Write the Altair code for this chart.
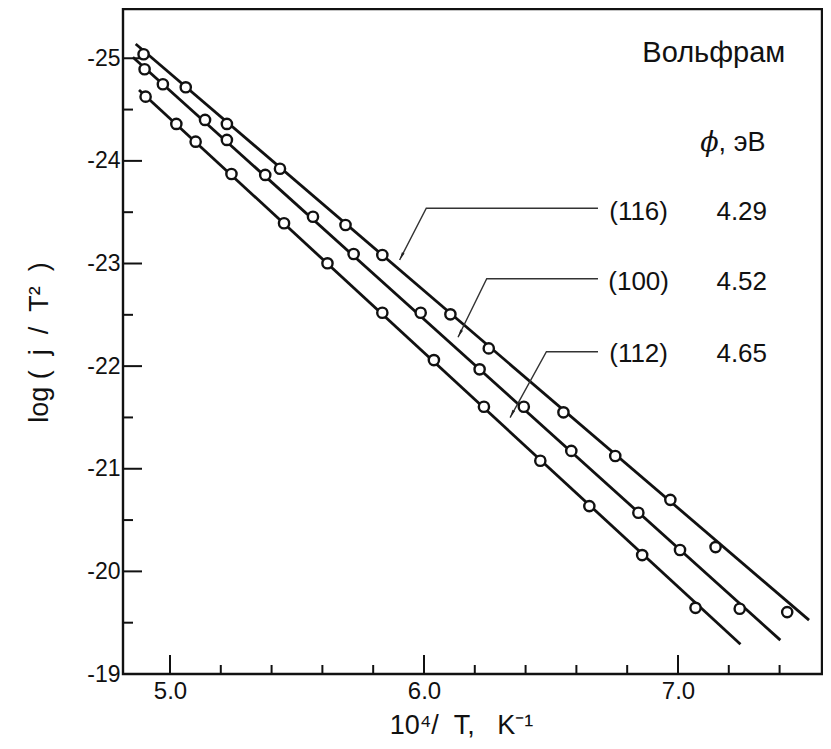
import altair as alt
import pandas as pd

# ---------------- data ----------------
series_names = ["(116)", "(100)", "(112)"]
work_functions = ["4.29", "4.52", "4.65"]

x_116 = [4.896, 5.062, 5.224, 5.433, 5.691, 5.836, 6.104, 6.255, 6.549, 6.753, 6.970, 7.148, 7.430]
y_116 = [-25.039, -24.717, -24.360, -23.923, -23.375, -23.083, -22.505, -22.173, -21.550, -21.124, -20.697, -20.237, -19.603]

x_100 = [4.900, 4.972, 5.138, 5.224, 5.375, 5.563, 5.723, 5.987, 6.219, 6.393, 6.580, 6.844, 7.008, 7.243]
y_100 = [-24.893, -24.747, -24.399, -24.204, -23.863, -23.456, -23.093, -22.520, -21.969, -21.604, -21.174, -20.571, -20.208, -19.636]

x_112 = [4.904, 5.025, 5.101, 5.242, 5.449, 5.620, 5.836, 6.039, 6.236, 6.458, 6.651, 6.859, 7.069]
y_112 = [-24.626, -24.360, -24.187, -23.872, -23.392, -23.002, -22.520, -22.059, -21.604, -21.078, -20.636, -20.159, -19.645]

# fitted straight lines (start / end points)
fit_x_start = [4.865, 4.854, 4.878]
fit_y_start = [-25.139, -25.010, -24.691]
fit_x_end = [7.516, 7.403, 7.246]
fit_y_end = [-19.525, -19.330, -19.289]

# leader lines: label end -> bend -> arrow tip
leader_x_label = [6.685, 6.685, 6.685]
leader_x_bend = [6.009, 6.247, 6.482]
leader_y = [-23.538, -22.852, -22.140]
arrow_x = [5.904, 6.134, 6.339]
arrow_y = [-23.034, -22.281, -21.499]

label_y = [-23.502, -22.820, -22.118]
label_x = [6.845, 6.845, 6.845]
phi_x = [7.251, 7.251, 7.251]

metal_text = ["Вольфрам"]
metal_x = [7.141]
metal_y = [-25.052]
phi_symbol = ["ϕ"]
phi_unit = [", эВ"]
phi_head_x = [7.160]
phi_head_y = [-24.170]

x_major = [5.0, 6.0, 7.0]
x_minor = [5.2, 5.4, 5.6, 5.8, 6.2, 6.4, 6.6, 6.8, 7.2, 7.4]
y_major = [-25, -24, -23, -22, -21, -20, -19]
y_minor = [-24.5, -23.5, -22.5, -21.5, -20.5, -19.5]
x_domain = [4.815, 7.567]
y_domain = [-25.48, -19.0]

NB = "\u00a0"
x_title = "10⁴/" + NB * 2 + "T," + NB * 3 + "K⁻¹"
y_title = "log" + NB + "(" + NB * 2 + "j" + NB * 2 + "/" + NB * 2 + "T²" + NB * 2 + ")"

# ---------------- tables ----------------
pts = pd.concat([
    pd.DataFrame({"x": x_116, "y": y_116, "s": series_names[0]}),
    pd.DataFrame({"x": x_100, "y": y_100, "s": series_names[1]}),
    pd.DataFrame({"x": x_112, "y": y_112, "s": series_names[2]}),
])

fit_rows = []
for i, s in enumerate(series_names):
    fit_rows.append({"x": fit_x_start[i], "y": fit_y_start[i], "s": s, "o": 0})
    fit_rows.append({"x": fit_x_end[i], "y": fit_y_end[i], "s": s, "o": 1})
fits = pd.DataFrame(fit_rows)

lead_rows = []
for i, s in enumerate(series_names):
    lead_rows.append({"x": leader_x_label[i], "y": leader_y[i], "s": s, "o": 0})
    lead_rows.append({"x": leader_x_bend[i], "y": leader_y[i], "s": s, "o": 1})
    lead_rows.append({"x": arrow_x[i], "y": arrow_y[i], "s": s, "o": 2})
leads = pd.DataFrame(lead_rows)
tips = pd.DataFrame({"x": arrow_x, "y": arrow_y})

labels = pd.DataFrame({"x": label_x, "y": label_y, "t": series_names})
phis = pd.DataFrame({"x": phi_x, "y": label_y, "t": work_functions})
metal = pd.DataFrame({"x": metal_x, "y": metal_y, "t": metal_text})
phi_sym = pd.DataFrame({"x": phi_head_x, "y": phi_head_y, "t": phi_symbol})
phi_un = pd.DataFrame({"x": phi_head_x, "y": phi_head_y, "t": phi_unit})

FONT = "Liberation Sans, Arial, Helvetica, sans-serif"
INK = "#111"
W, H = 699, 665

xscale = alt.Scale(domain=x_domain, zero=False, nice=False)
yscale = alt.Scale(domain=y_domain, zero=False, nice=False, reverse=True)

xaxis = alt.Axis(values=x_major, labelExpr="format(datum.value, '.1f')",
                 title=x_title, ticks=False, domain=False, grid=False,
                 labelFontSize=24, labelFont=FONT, labelColor=INK,
                 labelPadding=5, titleFont=FONT, titleFontSize=27,
                 titleFontWeight="normal", titleColor=INK,
                 titleX=338, titleY=65, titleBaseline="bottom")
yaxis = alt.Axis(values=y_major, labelExpr="'' + datum.value",
                 title=y_title, ticks=False, domain=False, grid=False,
                 labelFontSize=23, labelFont=FONT, labelColor=INK,
                 labelPadding=3, titleFont=FONT, titleFontSize=27,
                 titleFontWeight="normal", titleColor=INK,
                 titleX=-76, titleY=333, titleBaseline="alphabetic", titleAngle=-90)


def X(f="x"):
    return alt.X(f, type="quantitative", scale=xscale, axis=xaxis)


def Y(f="y"):
    return alt.Y(f, type="quantitative", scale=yscale, axis=yaxis)


lines = alt.Chart(fits).mark_line(color=INK, strokeWidth=2.8).encode(
    x=X(), y=Y(), detail="s:N", order="o:Q")

points = alt.Chart(pts).mark_point(shape="circle", size=105, filled=True,
                                   fill="white", stroke=INK, strokeWidth=2.4,
                                   opacity=1).encode(x=X(), y=Y())

leader = alt.Chart(leads).mark_line(color="#333", strokeWidth=1.4).encode(
    x=X(), y=Y(), detail="s:N", order="o:Q")

arrows = alt.Chart(tips).mark_point(shape="M0,0L0.35,1.9L-0.35,1.9Z", size=72,
                                    filled=True, color="#222", angle=207,
                                    opacity=1).encode(x=X(), y=Y())

lab_text = alt.Chart(labels).mark_text(font=FONT, fontSize=26, color=INK,
                                       align="center", baseline="middle").encode(
    x=X(), y=Y(), text="t:N")
phi_text = alt.Chart(phis).mark_text(font=FONT, fontSize=26, color=INK,
                                     align="center", baseline="middle").encode(
    x=X(), y=Y(), text="t:N")
metal_mark = alt.Chart(metal).mark_text(font=FONT, fontSize=29, color=INK,
                                        align="center", baseline="middle").encode(
    x=X(), y=Y(), text="t:N")
phi_sym_mark = alt.Chart(phi_sym).mark_text(font="DejaVu Serif, serif", fontSize=27,
                                            fontStyle="italic", color=INK,
                                            align="right", baseline="middle").encode(
    x=X(), y=Y(), text="t:N")
phi_un_mark = alt.Chart(phi_un).mark_text(font=FONT, fontSize=27, color=INK,
                                          align="left", baseline="middle").encode(
    x=X(), y=Y(), text="t:N")

xt_major = alt.Chart(pd.DataFrame({"x": x_major})).mark_rule(color=INK, strokeWidth=2).encode(
    x=X(), y=alt.value(H), y2=alt.value(H - 19))
xt_minor = alt.Chart(pd.DataFrame({"x": x_minor})).mark_rule(color=INK, strokeWidth=2).encode(
    x=X(), y=alt.value(H), y2=alt.value(H - 9))
yt_major = alt.Chart(pd.DataFrame({"y": y_major})).mark_rule(color=INK, strokeWidth=2).encode(
    y=Y(), x=alt.value(0), x2=alt.value(19))
yt_minor = alt.Chart(pd.DataFrame({"y": y_minor})).mark_rule(color=INK, strokeWidth=2).encode(
    y=Y(), x=alt.value(0), x2=alt.value(10))

chart = alt.layer(
    xt_major, xt_minor, yt_major, yt_minor,
    lines, leader, arrows, points, lab_text, phi_text, metal_mark,
    phi_sym_mark, phi_un_mark
).properties(
    width=W, height=H,
    autosize=alt.AutoSizeParams(type="none"),
    padding={"left": 115, "top": 1, "right": 1, "bottom": 67},
    background="white",
).configure_view(stroke=INK, strokeWidth=2.4)

chart.save("out.html", embed_options={"renderer": "svg", "actions": False})
